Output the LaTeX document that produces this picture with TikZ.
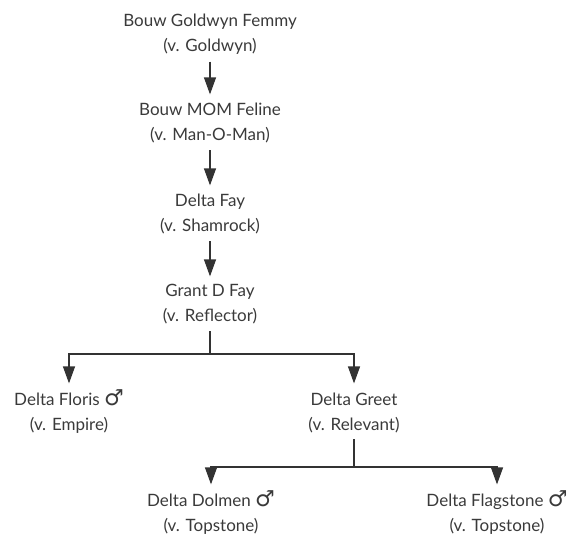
\documentclass[tikz,border=0pt]{standalone}
\usepackage{fontspec}
\setmainfont{Lato}
\newfontfamily\symfont{DejaVu Sans}
\newcommand{\malesym}{\smash{\symfont\fontsize{22}{25}\selectfont ♂}}
\usetikzlibrary{arrows.meta}
\definecolor{txt}{HTML}{3A3A3A}
\definecolor{ln}{HTML}{333333}
\begin{document}
\begin{tikzpicture}[x=1pt,y=-1pt,
  lbl/.style={align=center, inner sep=0pt, anchor=north, text=txt, font=\fontsize{17}{25}\selectfont},
  arr/.style={draw=ln, line width=1.2pt, -{Triangle[length=17pt,width=12pt]}},
  link/.style={draw=ln, line width=1.2pt}]
\useasboundingbox (0,0) rectangle (572,546);
\node[lbl] (n1) at (210,13.4) {Bouw Goldwyn Femmy\\(v. Goldwyn)};
\node[lbl] (n2) at (210,102.4) {Bouw MOM Feline\\(v. Man-O-Man)};
\node[lbl] (n3) at (210,193.4) {Delta Fay\\(v. Shamrock)};
\node[lbl] (n4) at (210,284.4) {Grant D Fay\\(v. Reflector)};
\node[lbl] (n5) at (69,392.4) {Delta Floris \malesym\\(v. Empire)};
\node[lbl] (n6) at (354,392.4) {Delta Greet\\(v. Relevant)};
\node[lbl] (n7) at (211,493.4) {Delta Dolmen \malesym\\(v. Topstone)};
\node[lbl] (n8) at (497,493.4) {Delta Flagstone \malesym\\(v. Topstone)};
\coordinate (j1) at (210,354);
\coordinate (j2) at (354,467);
\draw[arr, shorten <=7.5pt, shorten >=8pt] (n1) -- (n2);
\draw[arr, shorten <=7.5pt, shorten >=8pt] (n2) -- (n3);
\draw[arr, shorten <=7.5pt, shorten >=8pt] (n3) -- (n4);
\draw[link, shorten <=6.5pt] (n4) -- (j1);
\draw[arr, shorten >=9pt] (j1) -| (n5);
\draw[arr, shorten >=9pt] (j1) -| (n6);
\draw[link, shorten <=6.5pt] (n6) -- (j2);
\draw[arr, shorten >=9pt] (j2) -| (n7);
\draw[arr, shorten >=9pt] (j2) -| (n8);
\end{tikzpicture}
\end{document}
